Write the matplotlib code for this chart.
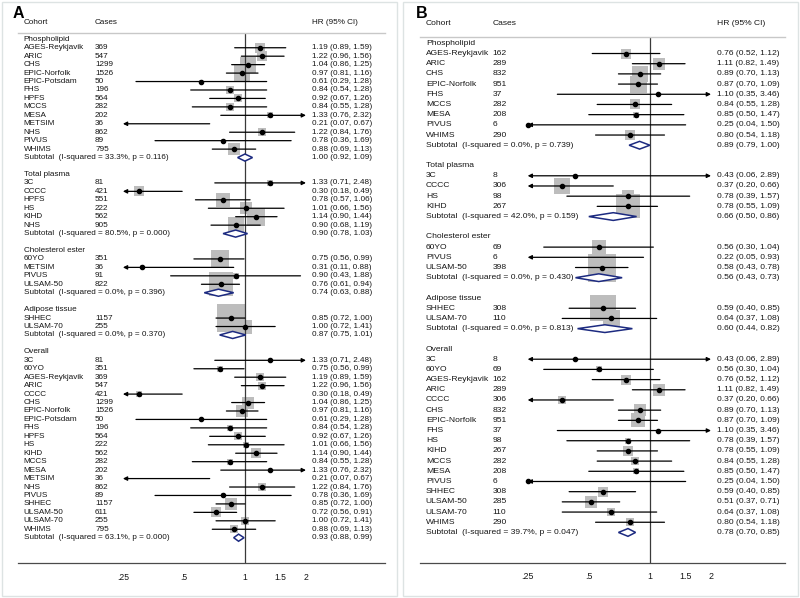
import matplotlib
matplotlib.use('Agg')
import matplotlib.pyplot as plt
from matplotlib.patches import Polygon, Rectangle
from matplotlib.transforms import blended_transform_factory

plt.rcParams['font.family'] = ['Liberation Sans', 'DejaVu Sans']

group_names = ['Phospholipid', 'Total plasma', 'Cholesterol ester', 'Adipose tissue', 'Overall']

# ---- panel A: all cases ----
a_sizes = [13, 6, 4, 2, 21]
a_cohort = ['AGES-Reykjavik', 'ARIC', 'CHS', 'EPIC-Norfolk', 'EPIC-Potsdam', 'FHS', 'HPFS', 'MCCS',
            'MESA', 'METSIM', 'NHS', 'PIVUS', 'WHIMS',
            '3C', 'CCCC', 'HPFS', 'HS', 'KIHD', 'NHS',
            '60YO', 'METSIM', 'PIVUS', 'ULSAM-50',
            'SHHEC', 'ULSAM-70',
            '3C', '60YO', 'AGES-Reykjavik', 'ARIC', 'CCCC', 'CHS', 'EPIC-Norfolk', 'EPIC-Potsdam',
            'FHS', 'HPFS', 'HS', 'KIHD', 'MCCS', 'MESA', 'METSIM', 'NHS', 'PIVUS', 'SHHEC',
            'ULSAM-50', 'ULSAM-70', 'WHIMS']
a_cases = [369, 547, 1299, 1526, 50, 196, 564, 282, 202, 36, 862, 89, 795,
           81, 421, 551, 222, 562, 905,
           351, 36, 91, 822,
           1157, 255,
           81, 351, 369, 547, 421, 1299, 1526, 50, 196, 564, 222, 562, 282, 202, 36, 862, 89,
           1157, 611, 255, 795]
a_hr = [1.19, 1.22, 1.04, 0.97, 0.61, 0.84, 0.92, 0.84, 1.33, 0.21, 1.22, 0.78, 0.88,
        1.33, 0.30, 0.78, 1.01, 1.14, 0.90,
        0.75, 0.31, 0.90, 0.76,
        0.85, 1.00,
        1.33, 0.75, 1.19, 1.22, 0.30, 1.04, 0.97, 0.61, 0.84, 0.92, 1.01, 1.14, 0.84, 1.33,
        0.21, 1.22, 0.78, 0.85, 0.72, 1.00, 0.88]
a_lo = [0.89, 0.96, 0.86, 0.81, 0.29, 0.54, 0.67, 0.55, 0.76, 0.07, 0.84, 0.36, 0.69,
        0.71, 0.18, 0.57, 0.66, 0.90, 0.68,
        0.56, 0.11, 0.43, 0.61,
        0.72, 0.72,
        0.71, 0.56, 0.89, 0.96, 0.18, 0.86, 0.81, 0.29, 0.54, 0.67, 0.66, 0.90, 0.55, 0.76,
        0.07, 0.84, 0.36, 0.72, 0.56, 0.72, 0.69]
a_hi = [1.59, 1.56, 1.25, 1.16, 1.28, 1.28, 1.26, 1.28, 2.32, 0.67, 1.76, 1.69, 1.13,
        2.48, 0.49, 1.06, 1.56, 1.44, 1.19,
        0.99, 0.88, 1.88, 0.94,
        1.00, 1.41,
        2.48, 0.99, 1.59, 1.56, 0.49, 1.25, 1.16, 1.28, 1.28, 1.26, 1.56, 1.44, 1.28, 2.32,
        0.67, 1.76, 1.69, 1.00, 0.91, 1.41, 1.13]
a_wt = [8.7, 8.7, 19.5, 22.1, 0.8, 4.9, 7.0, 4.9, 4.2, 0.3, 5.5, 1.4, 12.5,
        4.2, 8.7, 17.0, 10.5, 28.0, 22.0,
        28.0, 1.4, 3.1, 49.8,
        67.8, 17.0,
        0.8, 4.2, 5.5, 5.5, 4.2, 10.5, 12.5, 0.35, 3.1, 4.9, 3.1, 8.7, 3.1, 1.4,
        0.1, 5.5, 0.8, 14.6, 7.8, 5.5, 7.0]
a_sub_i2 = [33.3, 80.5, 0.0, 0.0, 63.1]
a_sub_p = [0.116, 0.000, 0.396, 0.370, 0.000]
a_sub_hr = [1.00, 0.90, 0.74, 0.87, 0.93]
a_sub_lo = [0.92, 0.78, 0.63, 0.75, 0.88]
a_sub_hi = [1.09, 1.03, 0.88, 1.01, 0.99]

# ---- panel B ----
b_sizes = [9, 4, 3, 2, 17]
b_cohort = ['AGES-Reykjavik', 'ARIC', 'CHS', 'EPIC-Norfolk', 'FHS', 'MCCS', 'MESA', 'PIVUS', 'WHIMS',
            '3C', 'CCCC', 'HS', 'KIHD',
            '60YO', 'PIVUS', 'ULSAM-50',
            'SHHEC', 'ULSAM-70',
            '3C', '60YO', 'AGES-Reykjavik', 'ARIC', 'CCCC', 'CHS', 'EPIC-Norfolk', 'FHS', 'HS',
            'KIHD', 'MCCS', 'MESA', 'PIVUS', 'SHHEC', 'ULSAM-50', 'ULSAM-70', 'WHIMS']
b_cases = [162, 289, 832, 951, 37, 282, 208, 6, 290,
           8, 306, 98, 267,
           69, 6, 398,
           308, 110,
           8, 69, 162, 289, 306, 832, 951, 37, 98, 267, 282, 208, 6, 308, 285, 110, 290]
b_hr = [0.76, 1.11, 0.89, 0.87, 1.10, 0.84, 0.85, 0.25, 0.80,
        0.43, 0.37, 0.78, 0.78,
        0.56, 0.22, 0.58,
        0.59, 0.64,
        0.43, 0.56, 0.76, 1.11, 0.37, 0.89, 0.87, 1.10, 0.78, 0.78, 0.84, 0.85, 0.25, 0.59,
        0.51, 0.64, 0.80]
b_lo = [0.52, 0.82, 0.70, 0.70, 0.35, 0.55, 0.50, 0.04, 0.54,
        0.06, 0.20, 0.39, 0.55,
        0.30, 0.05, 0.43,
        0.40, 0.37,
        0.06, 0.30, 0.52, 0.82, 0.20, 0.70, 0.70, 0.35, 0.39, 0.55, 0.55, 0.50, 0.04, 0.40,
        0.37, 0.37, 0.54]
b_hi = [1.12, 1.49, 1.13, 1.09, 3.46, 1.28, 1.47, 1.50, 1.18,
        2.89, 0.66, 1.57, 1.09,
        1.04, 0.93, 0.78,
        0.85, 1.08,
        2.89, 1.04, 1.12, 1.49, 0.66, 1.13, 1.09, 3.46, 1.57, 1.09, 1.28, 1.47, 1.50, 0.85,
        0.71, 1.08, 1.18]
b_wt = [8.7, 12.5, 22.1, 25.0, 0.35, 8.7, 4.2, 0.2, 8.7,
        0.8, 22.1, 14.6, 54.0,
        17.0, 1.4, 67.8,
        63.0, 25.0,
        0.35, 4.2, 8.7, 10.5, 5.5, 14.6, 17.0, 0.2, 2.2, 8.7, 5.5, 4.2, 0.1, 8.7,
        10.5, 7.0, 7.0]
b_sub_i2 = [0.0, 42.0, 0.0, 0.0, 39.7]
b_sub_p = [0.739, 0.159, 0.430, 0.813, 0.047]
b_sub_hr = [0.89, 0.66, 0.56, 0.60, 0.78]
b_sub_lo = [0.79, 0.50, 0.43, 0.44, 0.70]
b_sub_hi = [1.00, 0.86, 0.73, 0.82, 0.85]

TXT = '#161616'
XMIN, XMAX = 0.25, 2.0


def draw_panel(ax, sizes, cohort, cases, hr, lo, hi, wt, s_i2, s_p, s_hr, s_lo, s_hi,
               xlim, ylim, cols, fs, dia_h):
    ax.set_xscale('log')
    ax.set_xlim(*xlim)
    ax.set_ylim(*ylim)
    tr = blended_transform_factory(ax.transAxes, ax.transData)
    cx, kx, hx = cols

    # header row above the top rule
    hy = ylim[1] - 1.25
    for x, s in [(cx, 'Cohort'), (kx, 'Cases'), (hx, 'HR (95% CI)')]:
        ax.text(x, hy, s, transform=tr, fontsize=fs, color=TXT, va='center', clip_on=False)

    row = 0
    i = 0
    for g, n in enumerate(sizes):
        ax.text(cx, row, group_names[g], transform=tr, fontsize=fs, color=TXT, va='center')
        row += 1
        for k in range(i, i + n):
            ax.text(cx, row, cohort[k], transform=tr, fontsize=fs, color=TXT, va='center')
            ax.text(kx, row, str(cases[k]), transform=tr, fontsize=fs, color=TXT, va='center')
            ax.text(hx, row, f'{hr[k]:.2f} ({lo[k]:.2f}, {hi[k]:.2f})', transform=tr,
                    fontsize=fs, color=TXT, va='center')
            inside = XMIN <= hr[k] <= XMAX
            if inside:
                # box area proportional to weight
                side = 3.4 * wt[k] ** 0.5 * 0.72
                ax.scatter([hr[k]], [row], s=side ** 2, marker='s', color='#bdbdbd',
                           linewidths=0, zorder=1)
            x0, x1 = max(lo[k], XMIN), min(hi[k], XMAX)
            left, right = lo[k] < XMIN, hi[k] > XMAX
            style = {(True, True): '<|-|>', (True, False): '<|-',
                     (False, True): '-|>', (False, False): '-'}[(left, right)]
            ax.annotate('', xy=(x1, row), xytext=(x0, row),
                        arrowprops=dict(arrowstyle=style, color='black', lw=0.9,
                                        mutation_scale=6, shrinkA=0, shrinkB=0),
                        zorder=3)
            if inside:
                ax.plot([hr[k]], [row], 'o', color='black', ms=3, zorder=4)
            row += 1
        i += n
        ax.text(cx, row, f'Subtotal  (I-squared = {s_i2[g]:.1f}%, p = {s_p[g]:.3f})',
                transform=tr, fontsize=fs, color=TXT, va='center')
        ax.text(hx, row, f'{s_hr[g]:.2f} ({s_lo[g]:.2f}, {s_hi[g]:.2f})', transform=tr,
                fontsize=fs, color=TXT, va='center')
        dia = Polygon([(s_lo[g], row), (s_hr[g], row - dia_h), (s_hi[g], row),
                       (s_hr[g], row + dia_h)], closed=True, facecolor='white',
                      edgecolor='#1c2a80', lw=1.1, zorder=5)
        ax.add_patch(dia)
        row += 2

    ax.axvline(1, color='#3a3a3a', lw=0.9, zorder=2)
    for s in ['left', 'right']:
        ax.spines[s].set_visible(False)
    ax.spines['top'].set_color('#c8c8c8')
    ax.spines['top'].set_linewidth(1.0)
    ax.spines['bottom'].set_color('#4a4a4a')
    ax.spines['bottom'].set_linewidth(0.9)
    ax.set_xticks([0.25, 0.5, 1, 1.5, 2])
    ax.set_xticklabels(['.25', '.5', '1', '1.5', '2'])
    ax.xaxis.set_minor_locator(matplotlib.ticker.NullLocator())
    ax.tick_params(axis='x', length=0, pad=7, labelsize=fs + 0.3, labelcolor=TXT)
    ax.set_yticks([])


fig = plt.figure(figsize=(8, 5.98), dpi=100)

# light panel frames
fig.patches.append(Rectangle((0.002, 0.003), 0.494, 0.994, transform=fig.transFigure,
                             fill=False, edgecolor='#dde3e3', lw=1))
fig.patches.append(Rectangle((0.504, 0.003), 0.494, 0.994, transform=fig.transFigure,
                             fill=False, edgecolor='#dde3e3', lw=1))

axA = fig.add_axes([18 / 800, 1 - 563.3 / 598, 367 / 800, 530 / 598])
draw_panel(axA, a_sizes, a_cohort, a_cases, a_hr, a_lo, a_hi, a_wt,
           a_sub_i2, a_sub_p, a_sub_hr, a_sub_lo, a_sub_hi,
           xlim=(0.0759, 4.91), ylim=(62.03, -0.71), cols=(0.016, 0.21, 0.801),
           fs=5.9, dia_h=0.42)

axB = fig.add_axes([420 / 800, 1 - 562.7 / 598, 365 / 800, 526 / 598])
draw_panel(axB, b_sizes, b_cohort, b_cases, b_hr, b_lo, b_hi, b_wt,
           b_sub_i2, b_sub_p, b_sub_hr, b_sub_lo, b_sub_hi,
           xlim=(0.0737, 4.63), ylim=(50.97, -0.65), cols=(0.016, 0.199, 0.814),
           fs=6.1, dia_h=0.38)

fig.text(13 / 800, 1 - 13 / 598, 'A', fontsize=11.5, fontweight='bold', va='center', ha='left')
fig.text(416 / 800, 1 - 13 / 598, 'B', fontsize=11.5, fontweight='bold', va='center', ha='left')

fig.savefig('out.png', dpi=100)
